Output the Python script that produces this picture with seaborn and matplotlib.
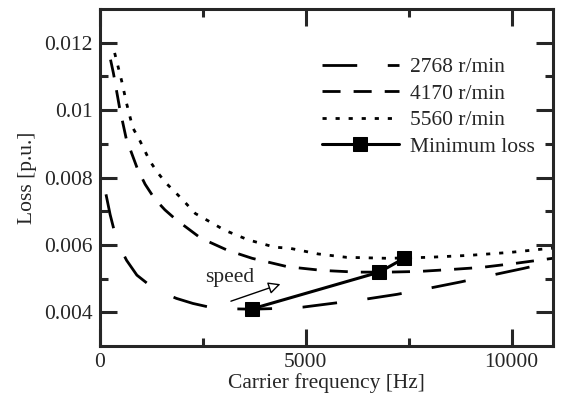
import numpy as np
import pandas as pd
import matplotlib
matplotlib.use("Agg")
import matplotlib.pyplot as plt
from matplotlib.ticker import FixedLocator, FuncFormatter
import seaborn as sns

# 数据
f_2768 = [150, 250, 360, 500, 650, 900, 1210, 1530, 1860, 2260, 2660, 3200, 3700, 4300, 4930, 5700,
          6470, 7220, 7990, 8770, 9520, 10290, 11000]
loss_2768 = [0.0075, 0.0069, 0.00637, 0.0059, 0.00554, 0.0051, 0.0048, 0.00458, 0.00441, 0.00426,
             0.00415, 0.0041, 0.00409, 0.00411, 0.00415, 0.00427, 0.00439, 0.00453, 0.00471, 0.0049,
             0.0051, 0.0053, 0.0055]

f_4170 = [260, 330, 480, 640, 910, 1100, 1330, 1580, 1840, 2450, 3100, 3700, 4560, 5410, 6230, 7000,
          7750, 8550, 9270, 10090, 11000]
loss_4170 = [0.0115, 0.0111, 0.01007, 0.00916, 0.00827, 0.0078, 0.00737, 0.00704, 0.00676, 0.0062,
             0.00584, 0.0056, 0.00535, 0.00524, 0.00519, 0.00519, 0.00521, 0.00527, 0.00533, 0.00545,
             0.0056]

f_5560 = [360, 530, 650, 800, 970, 1210, 1400, 1620, 1980, 2320, 3040, 3600, 4250, 4610, 5300, 5990,
          7000, 7990, 9000, 10000, 10720, 11000]
loss_5560 = [0.0117, 0.01087, 0.0102, 0.00948, 0.0091, 0.0085, 0.00815, 0.00782, 0.00738, 0.00693,
             0.00643, 0.00615, 0.00593, 0.0059, 0.00573, 0.00563, 0.0056, 0.00563, 0.00569, 0.00578,
             0.00587, 0.0059]

f_min = [3700, 6790, 7390]
loss_min = [0.0041, 0.00519, 0.0056]

labels = ["2768 r/min", "4170 r/min", "5560 r/min", "Minimum loss"]

sns.set_style("ticks")
plt.rcParams['font.family'] = ['Liberation Serif', 'DejaVu Serif']
fs = 15.5
plt.rcParams['font.size'] = fs

fig = plt.figure(figsize=(5.64, 3.98), dpi=100)
ax = fig.add_axes([0.177, 0.131, 0.803, 0.846])

lw = 2.0
sns.lineplot(x=f_2768, y=loss_2768, ax=ax, color='black', lw=lw, label=labels[0])
ax.lines[-1].set_dashes((12.5, 11))
sns.lineplot(x=f_4170, y=loss_4170, ax=ax, color='black', lw=lw, label=labels[1])
ax.lines[-1].set_dashes((6.5, 4.7))
sns.lineplot(x=f_5560, y=loss_5560, ax=ax, color='black', lw=lw, label=labels[2])
ax.lines[-1].set_dashes((1.5, 3.2))
sns.lineplot(x=f_min, y=loss_min, ax=ax, color='black', lw=2.2, marker='s', markersize=10,
             markeredgecolor='black', label=labels[3])

# 箭头 + speed
ax.annotate('', xy=(4450, 0.00486), xytext=(3120, 0.0043),
            arrowprops=dict(arrowstyle='-|>', fc='white', ec='black', lw=1, mutation_scale=18))
ax.text(3160, 0.00503, 'speed', ha='center', va='center', fontsize=fs)

ax.set_xlim(0, 11000)
ax.set_ylim(0.003, 0.013)
ax.xaxis.set_major_locator(FixedLocator([0, 5000, 10000]))
ax.xaxis.set_minor_locator(FixedLocator([2500, 7500]))
ax.yaxis.set_major_locator(FixedLocator([0.004, 0.006, 0.008, 0.010, 0.012]))
ax.yaxis.set_minor_locator(FixedLocator([0.005, 0.007, 0.009, 0.011]))
ax.yaxis.set_major_formatter(FuncFormatter(lambda v, _: f'{v:g}'))
ax.xaxis.set_major_formatter(FuncFormatter(lambda v, _: f'{int(v)}'))

ax.tick_params(which='both', direction='in', top=True, right=True, width=2.2, labelsize=fs, pad=5)
ax.tick_params(which='major', length=12)
ax.tick_params(which='minor', length=6)
for s in ax.spines.values():
    s.set_visible(True)
    s.set_linewidth(2.2)

ax.set_xlabel('Carrier frequency [Hz]', fontsize=fs, labelpad=1)
ax.set_ylabel('Loss [p.u.]', fontsize=fs, labelpad=5)

ax.legend(loc='upper left', bbox_to_anchor=(0.49, 0.858), frameon=False, handlelength=3.6,
          borderpad=0, borderaxespad=0, labelspacing=0.3, handletextpad=0.5, fontsize=fs)

plt.savefig('out.png', dpi=100)
